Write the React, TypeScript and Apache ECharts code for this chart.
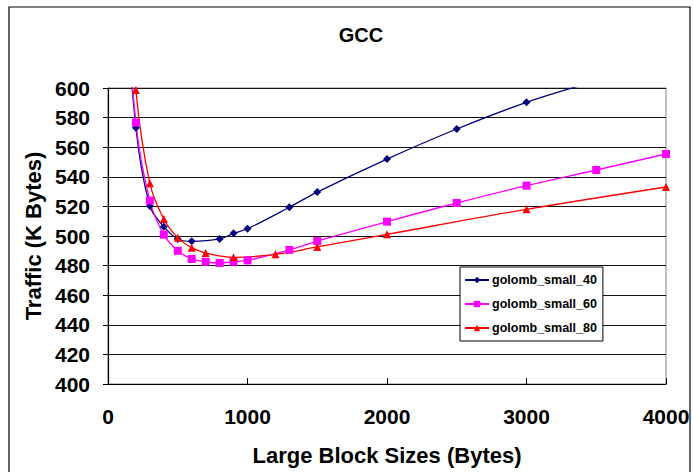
import React, { useEffect, useRef } from "react";
import * as echarts from "echarts";

// Block sizes (bytes) and traffic (K bytes) for each encoding variant
const sizes40 = [100, 200, 300, 400, 500, 600, 800, 900, 1000, 1300, 1500, 2000, 2500, 3000, 3500, 4000];
const traffic40 = [700, 573.2, 520.3, 506.3, 498, 496.4, 498, 501.8, 504.9, 519.4, 529.7, 552, 572.3, 590.3, 605, 620];

const sizes60 = [100, 200, 300, 400, 500, 600, 700, 800, 900, 1000, 1300, 1500, 2000, 2500, 3000, 3500, 4000];
const traffic60 = [705, 576.6, 523.9, 500.9, 490, 484.5, 482.6, 481.8, 482.6, 483.5, 490.6, 496.6, 509.7, 522.3, 534, 544.6, 555.4];

const sizes80 = [100, 200, 300, 400, 500, 600, 700, 900, 1200, 1500, 2000, 3000, 4000];
const traffic80 = [740, 598.6, 535.6, 511.5, 498.9, 492.1, 488.5, 485.6, 487.6, 492.6, 501.1, 518, 533.1];

const seriesNames = ["golomb_small_40", "golomb_small_60", "golomb_small_80"];
const titleText = "GCC";
const xAxisTitle = "Large Block Sizes (Bytes)";
const yAxisTitle = "Traffic (K Bytes)";

const FONT = "Liberation Sans, Arial, sans-serif";

function pairs(xs: number[], ys: number[]) {
  return xs.map((x, i) => [x, ys[i]]);
}

export default function App() {
  const ref = useRef<HTMLDivElement>(null);

  useEffect(() => {
    if (!ref.current) return;
    const chart = echarts.init(ref.current, null, { renderer: "svg" });

    const mk = (
      name: string,
      data: number[][],
      color: string,
      symbol: string,
      symbolSize: number
    ) => ({
      name,
      type: "line",
      data,
      smooth: 0.35,
      clip: true,
      symbol,
      symbolSize,
      showSymbol: true,
      lineStyle: { color, width: 1.3 },
      itemStyle: { color, borderWidth: 0 },
    });

    chart.setOption({
      animation: false,
      backgroundColor: "#ffffff",
      title: {
        text: titleText,
        left: 356,
        top: 20,
        textAlign: "center",
        textStyle: { fontFamily: FONT, fontSize: 20, fontWeight: "bold", color: "#000" },
      },
      graphic: [
        {
          type: "rect",
          shape: { x: 9, y: 7, width: 681, height: 480 },
          style: { fill: "none", stroke: "#000", lineWidth: 1.2 },
          silent: true,
          z: 0,
        },
      ],
      legend: {
        orient: "vertical",
        left: 460,
        top: 267,
        width: 135,
        padding: [6, 6, 6, 4],
        itemGap: 10,
        itemWidth: 24,
        itemHeight: 8,
        backgroundColor: "#ffffff",
        borderColor: "#000",
        borderWidth: 1,
        data: seriesNames,
        textStyle: {
          fontFamily: FONT,
          fontSize: 12.5,
          fontWeight: "bold",
          color: "#000",
          lineHeight: 14,
          padding: [0, 0, 0, -2],
        },
      },
      grid: {
        left: 108,
        top: 88,
        right: 27,
        bottom: 88,
        show: true,
        borderColor: "#808080",
        borderWidth: 1,
      },
      xAxis: {
        type: "value",
        min: 0,
        max: 4000,
        interval: 1000,
        name: xAxisTitle,
        nameLocation: "middle",
        nameGap: 60,
        nameTextStyle: { fontFamily: FONT, fontSize: 22, fontWeight: "bold", color: "#000" },
        axisLine: { lineStyle: { color: "#000", width: 1.2 } },
        axisTick: { inside: true, length: 6, lineStyle: { color: "#000" } },
        axisLabel: {
          margin: 22,
          fontFamily: FONT,
          fontSize: 21,
          fontWeight: "bold",
          color: "#000",
          formatter: (v: number) => String(v),
        },
        splitLine: { show: false },
      },
      yAxis: {
        type: "value",
        min: 400,
        max: 600,
        interval: 20,
        name: yAxisTitle,
        nameLocation: "middle",
        nameGap: 64,
        nameTextStyle: { fontFamily: FONT, fontSize: 22, fontWeight: "bold", color: "#000" },
        axisLine: { show: true, lineStyle: { color: "#000", width: 1.2 } },
        axisTick: { show: true, inside: false, length: 5, lineStyle: { color: "#000" } },
        axisLabel: {
          margin: 18,
          fontFamily: FONT,
          fontSize: 21,
          fontWeight: "bold",
          color: "#000",
          formatter: (v: number) => String(v),
        },
        splitLine: { show: true, lineStyle: { color: "#111", width: 1 } },
      },
      series: [
        mk(seriesNames[0], pairs(sizes40, traffic40), "#000080", "diamond", 8),
        mk(seriesNames[1], pairs(sizes60, traffic60), "#ff00ff", "rect", 8),
        mk(seriesNames[2], pairs(sizes80, traffic80), "#ff0000", "triangle", 8),
      ],
    });

    return () => chart.dispose();
  }, []);

  return (
    <div
      ref={ref}
      style={{ position: "absolute", left: 0, top: 0, width: 693, height: 472 }}
    />
  );
}
